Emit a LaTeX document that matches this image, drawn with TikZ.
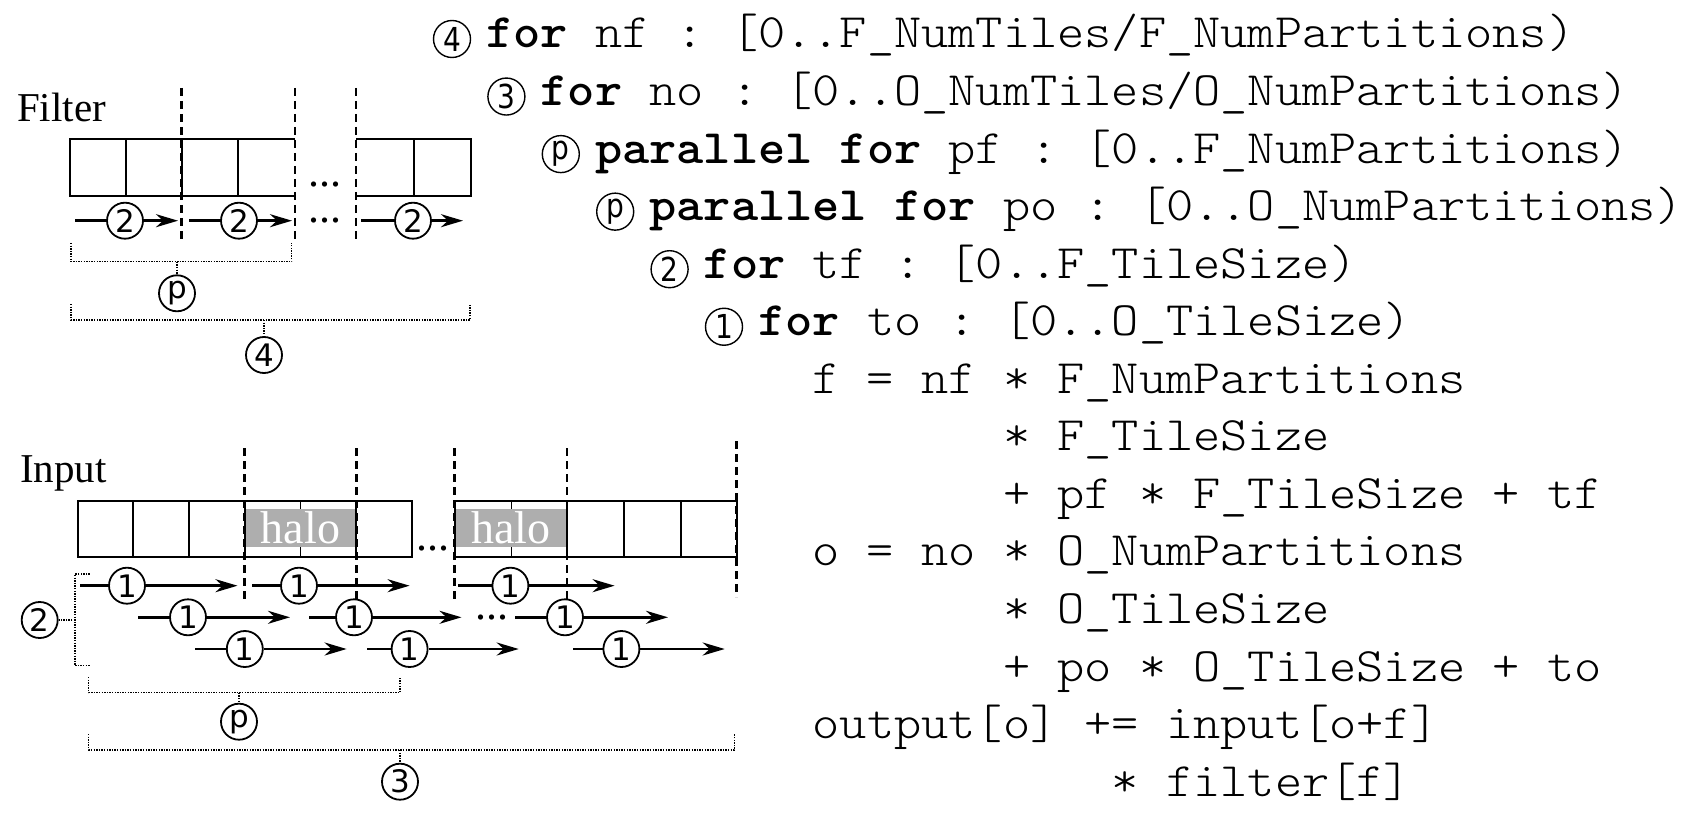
\documentclass[tikz,border=0pt]{standalone}
\usepackage{fontspec}
\usepackage{graphicx}
\usetikzlibrary{arrows.meta}
\newfontfamily\serifA{Liberation Serif}
\newfontfamily\sansA{DejaVu Sans}
\newfontfamily\codeA{lmmonolt10-regular.otf}[BoldFont=lmmonolt10-bold.otf]
\newcommand\cd[1]{\scalebox{1.0794}[1]{#1}}
\newcommand\mk[1]{\scalebox{0.85}[1]{#1}}
\definecolor{halogray}{RGB}{174,174,174}
\tikzset{
 cell/.style={line width=1.8pt},
 dsh/.style={line width=2.8pt, dash pattern=on 8pt off 5pt},
 brk/.style={line width=1.4pt, dash pattern=on 1.4pt off 1.2pt},
 ln/.style={line width=2.6pt},
 arr/.style={line width=2.6pt, -{Stealth[length=22pt, width=13pt, inset=7pt]}},
 dc/.style={circle, draw, line width=1.8pt, minimum size=36pt, inner sep=0pt, font=\sansA\fontsize{31}{31}\selectfont},
 mc/.style={circle, draw, line width=1.4pt, minimum size=37pt, inner sep=0pt, font=\sansA\fontsize{33}{33}\selectfont},
 lbl/.style={anchor=base west, inner sep=0pt, font=\serifA\fontsize{41}{41}\selectfont},
 halotxt/.style={anchor=base, inner sep=0pt, text=white, font=\serifA\fontsize{46}{46}\selectfont},
 dotstxt/.style={inner sep=0pt, font=\serifA\fontsize{44}{44}\selectfont},
 code/.style={anchor=base west, inner sep=0pt, font=\codeA\fontsize{48}{48}\selectfont\frenchspacing},
}
\begin{document}
\begin{tikzpicture}[x=1pt,y=-1pt]
\useasboundingbox[fill=white] (0,0) rectangle (1693,818);

% ---------------- Filter ----------------
\node[lbl] (filterlbl) at (17,122) {Filter};
\draw[cell] (295,139.3) -- (70,139.3) -- (70,196) -- (295,196);
\foreach \x in {126,181.7,238.3} \draw[cell] (\x,139.3) -- (\x,196);
\draw[cell] (356,139.3) -- (470.7,139.3) -- (470.7,196) -- (356,196);
\draw[cell] (414.3,139.3) -- (414.3,196);
\foreach \x in {181.7,295,356} \draw[dsh] (\x,88) -- (\x,243);
\node[dotstxt] (fdots1) at (325,185) {...};
\node[dotstxt] (fdots2) at (325,221) {...};
\foreach \n/\s/\c/\e in {1/75/125/178, 2/189/239/292, 3/361/413/463}{
  \coordinate (fs\n) at (\s,220.7);
  \node[dc] (fc\n) at (\c,220.7) {2};
  \coordinate (fe\n) at (\e,220.7);
  \draw[ln] (fs\n) -- (fc\n);
  \draw[arr] (fc\n) -- (fe\n);
}
% bracket p
\coordinate (fpA) at (71,243);
\coordinate (fpB) at (71,261.7);
\coordinate (fpC) at (291.7,261.7);
\coordinate (fpD) at (291.7,243);
\coordinate (fpM) at (177,261.7);
\node[dc] (fpc) at (177,293.3) {p};
\draw[brk] (fpA) -- (fpB) -- (fpC) -- (fpD);
\draw[brk] (fpM) -- (fpc);
% bracket 4
\coordinate (f4A) at (71,304);
\coordinate (f4B) at (71,320);
\coordinate (f4C) at (470,320);
\coordinate (f4D) at (470,304);
\coordinate (f4M) at (264,320);
\node[dc] (f4c) at (264,355) {4};
\draw[brk] (f4A) -- (f4B) -- (f4C) -- (f4D);
\draw[brk] (f4M) -- (f4c);

% ---------------- Input ----------------
\node[lbl] (inputlbl) at (20,482) {Input};
\draw[cell] (77.6,501) rectangle (412,557.3);
\foreach \x in {133.3,189,244.8,300.5,356.3} \draw[cell] (\x,501) -- (\x,557.3);
\draw[cell] (454.7,501) rectangle (736.8,557.3);
\foreach \x in {511.4,567,624.3,681} \draw[cell] (\x,501) -- (\x,557.3);
\fill[halogray] (246,509.3) rectangle (355,547.3);
\fill[halogray] (455.5,509.3) rectangle (566,547.3);
\node[halotxt] (halo1) at (300.5,543.5) {halo};
\node[halotxt] (halo2) at (511,543.5) {halo};
\foreach \x in {244.8,356.3,454.7,567} \draw[dsh] (\x,448) -- (\x,602);
\draw[dsh] (736.8,441) -- (736.8,597);
\node[dotstxt] (idots1) at (433,549) {...};
\node[dotstxt] (idots2) at (492,617.3) {...};
\foreach \n/\s/\c/\e/\y in {
  1/80/127/237.5/585.7, 2/252/299/409.6/585.7, 3/458/510.4/614.6/585.7,
  4/138/188/290/617.3, 5/309/354/461.5/617.3, 6/515/565/668/617.3,
  7/195/244.8/346.6/649, 8/367/409.6/518.7/649, 9/573.4/621.4/724.7/649}{
  \coordinate (is\n) at (\s,\y);
  \node[dc] (ic\n) at (\c,\y) {1};
  \coordinate (ie\n) at (\e,\y);
  \draw[ln] (is\n) -- (ic\n);
  \draw[arr] (ic\n) -- (ie\n);
}
% bracket 2 (vertical)
\coordinate (i2A) at (89.7,574);
\coordinate (i2B) at (75,574);
\coordinate (i2C) at (75,665.7);
\coordinate (i2D) at (89.7,665.7);
\coordinate (i2M) at (75,620);
\node[dc] (i2c) at (39.7,620) {2};
\draw[brk] (i2A) -- (i2B) -- (i2C) -- (i2D);
\draw[brk] (i2M) -- (i2c);
% bracket p
\coordinate (ipA) at (88.7,677);
\coordinate (ipB) at (88.7,692.7);
\coordinate (ipC) at (400,692.7);
\coordinate (ipD) at (400,677);
\coordinate (ipM) at (239,692.7);
\node[dc] (ipc) at (239,721.7) {p};
\draw[brk] (ipA) -- (ipB) -- (ipC) -- (ipD);
\draw[brk] (ipM) -- (ipc);
% bracket 3
\coordinate (i3A) at (88.7,734);
\coordinate (i3B) at (88.7,750);
\coordinate (i3C) at (734.4,750);
\coordinate (i3D) at (734.4,734);
\coordinate (i3M) at (400,750);
\node[dc] (i3c) at (400,781.7) {3};
\draw[brk] (i3A) -- (i3B) -- (i3C) -- (i3D);
\draw[brk] (i3M) -- (i3c);

% ---------------- Code ----------------
\node[mc] (m1) at (452,39) {\mk{4}};
\node[mc] (m2) at (506.4,96.55) {\mk{3}};
\node[mc] (m3) at (560.8,154.1) {\mk{p}};
\node[mc] (m4) at (615.2,211.65) {\mk{p}};
\node[mc] (m5) at (669.6,269.2) {\mk{2}};
\node[mc] (m6) at (724,326.75) {\mk{1}};
\node[code] (l1) at (486,48) {\cd{\textbf{for} nf : [0..F\_NumTiles/F\_NumPartitions)}};
\node[code] (l2) at (540.4,105.55) {\cd{\textbf{for} no : [0..O\_NumTiles/O\_NumPartitions)}};
\node[code] (l3) at (594.8,163.1) {\cd{\textbf{parallel for} pf : [0..F\_NumPartitions)}};
\node[code] (l4) at (649.2,220.65) {\cd{\textbf{parallel for} po : [0..O\_NumPartitions)}};
\node[code] (l5) at (703.6,278.2) {\cd{\textbf{for} tf : [0..F\_TileSize)}};
\node[code] (l6) at (758,335.75) {\cd{\textbf{for} to : [0..O\_TileSize)}};
\node[code] (l7) at (812.4,393.3) {\cd{f = nf * F\_NumPartitions}};
\node[code] (l8) at (1002.8,450.85) {\cd{* F\_TileSize}};
\node[code] (l9) at (1002.8,508.4) {\cd{+ pf * F\_TileSize + tf}};
\node[code] (l10) at (812.4,565.95) {\cd{o = no * O\_NumPartitions}};
\node[code] (l11) at (1002.8,623.5) {\cd{* O\_TileSize}};
\node[code] (l12) at (1002.8,681.05) {\cd{+ po * O\_TileSize + to}};
\node[code] (l13) at (812.4,738.6) {\cd{output[o] += input[o+f]}};
\node[code] (l14) at (1111.6,796.15) {\cd{* filter[f]}};
\end{tikzpicture}
\end{document}
